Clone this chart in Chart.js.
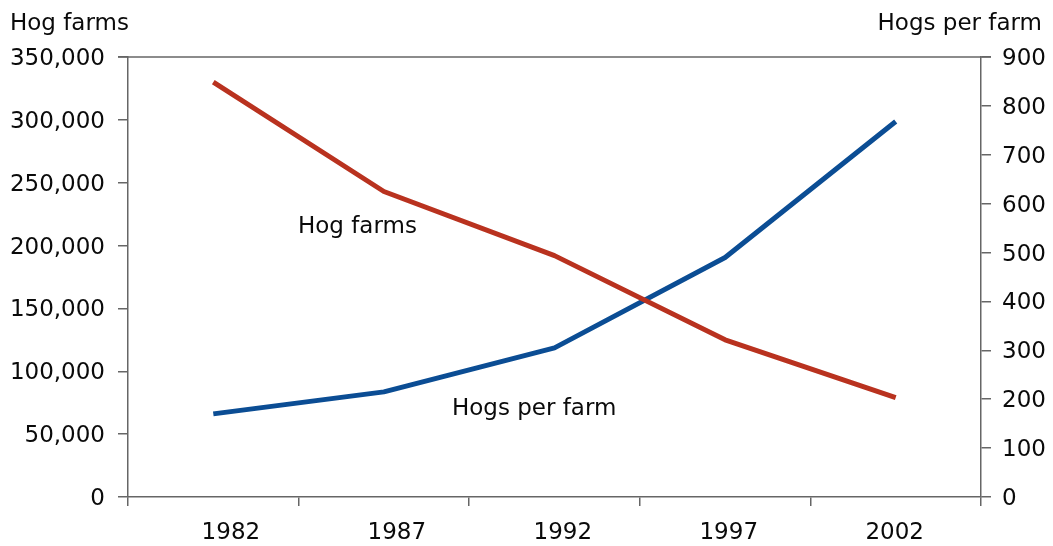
<!DOCTYPE html>
<html>
<head>
<meta charset="utf-8">
<script src="https://cdn.jsdelivr.net/npm/chart.js@4"></script>
<style>
  html, body { margin: 0; padding: 0; background: #fff; }
  #wrap { width: 1053px; height: 546px; }
</style>
</head>
<body>
<div id="wrap"><canvas id="c" width="1053" height="546"></canvas></div>
<script>
// Census years on the category axis
const years = ['1982', '1987', '1992', '1997', '2002'];
// Number of hog farms (left axis)
const hogFarms = [330000, 243000, 192000, 125000, 79000];
// Average hogs per farm (right axis)
const hogsPerFarm = [170, 215, 305, 490, 768];
// Axis ranges and tick steps
const farmAxis = { min: 0, max: 350000, step: 50000 };
const perFarmAxis = { min: 0, max: 900, step: 100 };

const FONT = { family: '"DejaVu Sans", Verdana, sans-serif', size: 23 };
const TEXT = '#0a0a0a';
const AXIS = '#666666';
const RED = '#b9321f';
const BLUE = '#0b4d94';

// Top frame line plus axis titles and in-plot series labels
const decorations = {
  id: 'decorations',
  afterDraw(chart) {
    const { ctx, chartArea: a } = chart;
    ctx.save();
    ctx.strokeStyle = AXIS;
    ctx.lineWidth = 1.5;
    ctx.beginPath();
    ctx.moveTo(a.left - 10, a.top);
    ctx.lineTo(a.right + 10, a.top);
    ctx.stroke();

    ctx.fillStyle = TEXT;
    ctx.font = `${FONT.size}px ${FONT.family}`;
    ctx.textBaseline = 'alphabetic';
    ctx.textAlign = 'left';
    ctx.fillText('Hog farms', 10, 30);
    ctx.textAlign = 'right';
    ctx.fillText('Hogs per farm', 1042, 30);

    ctx.textAlign = 'left';
    ctx.fillText('Hog farms', 298, 233);
    ctx.fillText('Hogs per farm', 452, 415);
    ctx.restore();
  }
};

const tickGrid = {
  drawOnChartArea: false,
  drawTicks: true,
  tickLength: 10,
  color: AXIS,
  lineWidth: 1.5
};

new Chart(document.getElementById('c'), {
  type: 'line',
  data: {
    labels: years,
    datasets: [
      {
        label: 'Hog farms',
        data: hogFarms,
        yAxisID: 'y',
        borderColor: RED,
        borderWidth: 5,
        pointRadius: 0,
        tension: 0,
        borderJoinStyle: 'round',
        fill: false
      },
      {
        label: 'Hogs per farm',
        data: hogsPerFarm,
        yAxisID: 'y1',
        borderColor: BLUE,
        borderWidth: 5,
        pointRadius: 0,
        tension: 0,
        borderJoinStyle: 'round',
        fill: false
      }
    ]
  },
  options: {
    responsive: false,
    animation: false,
    devicePixelRatio: 1,
    layout: { padding: { top: 57, left: 0, right: 0, bottom: 0 } },
    plugins: {
      legend: { display: false },
      tooltip: { enabled: false },
      title: { display: false }
    },
    scales: {
      // Category axis: positions the points, draws the baseline and the
      // boundary tick marks between years
      x: {
        type: 'category',
        position: 'bottom',
        offset: true,
        grid: { ...tickGrid, offset: true, tickLength: 9 },
        border: { display: true, color: AXIS, width: 1.5 },
        ticks: { display: false },
        afterFit(s) { s.height = 12; }
      },
      // Year labels, spaced slightly tighter than the categories
      xYears: {
        type: 'linear',
        position: 'bottom',
        min: -0.62,
        max: 4.52,
        grid: { display: false },
        border: { display: false },
        afterBuildTicks(s) {
          s.ticks = years.map((_, i) => ({ value: i }));
        },
        ticks: {
          font: FONT,
          color: TEXT,
          padding: 2,
          maxRotation: 0,
          autoSkip: false,
          callback: v => years[v]
        },
        afterFit(s) { s.height = 37; }
      },
      y: {
        position: 'left',
        min: farmAxis.min,
        max: farmAxis.max,
        grid: tickGrid,
        border: { display: true, color: AXIS, width: 1.5 },
        ticks: {
          stepSize: farmAxis.step,
          font: FONT,
          color: TEXT,
          padding: 13,
          labelOffset: 2,
          callback: v => v.toLocaleString('en-US')
        },
        afterFit(s) { s.width = 128; }
      },
      y1: {
        position: 'right',
        min: perFarmAxis.min,
        max: perFarmAxis.max,
        grid: tickGrid,
        border: { display: true, color: AXIS, width: 1.5 },
        ticks: {
          stepSize: perFarmAxis.step,
          font: FONT,
          color: TEXT,
          padding: 11,
          labelOffset: 2
        },
        afterFit(s) { s.width = 72; }
      }
    }
  },
  plugins: [decorations]
});
</script>
</body>
</html>
